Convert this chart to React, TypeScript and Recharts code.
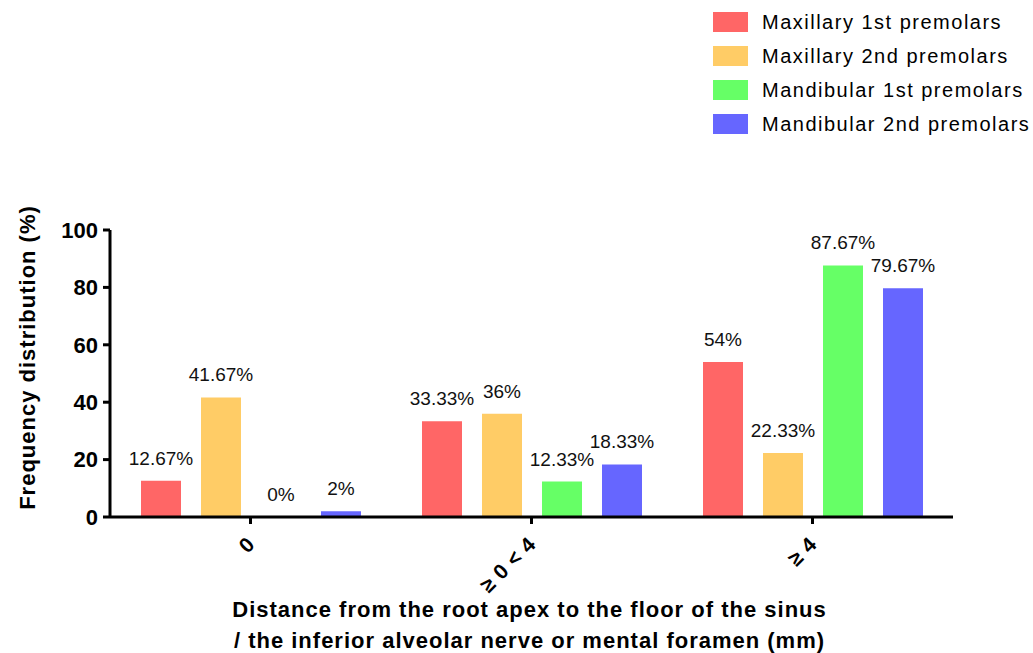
import { Bar, BarChart, Label, LabelList, Legend, XAxis, YAxis } from "recharts";

const categories = ["0", "≥ 0 < 4", "≥ 4"];
const maxillary1st = [12.67, 33.33, 54];
const maxillary2nd = [41.67, 36, 22.33];
const mandibular1st = [0, 12.33, 87.67];
const mandibular2nd = [2, 18.33, 79.67];
const yTicks = [0, 20, 40, 60, 80, 100];

const series = [
  { key: "max1", name: "Maxillary 1st premolars", color: "#ff6666" },
  { key: "max2", name: "Maxillary 2nd premolars", color: "#ffcc66" },
  { key: "man1", name: "Mandibular 1st premolars", color: "#66ff66" },
  { key: "man2", name: "Mandibular 2nd premolars", color: "#6666ff" },
];

const data = categories.map((label, i) => ({
  label,
  max1: maxillary1st[i],
  max2: maxillary2nd[i],
  man1: mandibular1st[i],
  man2: mandibular2nd[i],
}));

const FONT = '"Liberation Sans", Arial, Helvetica, sans-serif';

function XTick({ x, y, payload }: any) {
  const ax = x - 5;
  const ay = y + 9;
  return (
    <text
      x={ax}
      y={ay}
      transform={`rotate(-45 ${ax} ${ay})`}
      textAnchor="end"
      dy="0.71em"
      fontFamily={FONT}
      fontWeight="bold"
      fontSize={21}
      letterSpacing={0.5}
      fill="#000"
    >
      {payload.value}
    </text>
  );
}

function LegendBox() {
  return (
    <div style={{ fontFamily: FONT, fontSize: 20, letterSpacing: 1.5, color: "#000" }}>
      {series.map((s) => (
        <div key={s.key} style={{ display: "flex", alignItems: "center", height: 34 }}>
          <span style={{ width: 35, height: 20, background: s.color, display: "inline-block" }} />
          <span style={{ marginLeft: 14, whiteSpace: "nowrap" }}>{s.name}</span>
        </div>
      ))}
    </div>
  );
}

// keep zero-valued bars so their labels are still drawn
const zeroSafe = (v: any) => (v === 0 ? 0.01 : 0);

export default function App() {
  return (
    <div style={{ position: "absolute", top: 0, left: 0, background: "#fff" }}>
      <BarChart
        width={1033}
        height={653}
        data={data}
        margin={{ top: 230, right: 80, bottom: 0, left: 0 }}
        barSize={40}
        barGap={20}
      >
        <XAxis
          dataKey="label"
          height={136}
          stroke="#000"
          strokeWidth={3}
          tickSize={7}
          tick={<XTick />}
          interval={0}
        >
          <Label
            content={({ viewBox }: any) => {
              const cx = viewBox.x + viewBox.width / 2 - 2;
              return (
                <text
                  textAnchor="middle"
                  fontFamily={FONT}
                  fontWeight="bold"
                  fontSize={22}
                  letterSpacing={1}
                  fill="#000"
                >
                  <tspan x={cx} y={617}>
                    Distance from the root apex to the floor of the sinus
                  </tspan>
                  <tspan x={cx} y={648}>
                    / the inferior alveolar nerve or mental foramen (mm)
                  </tspan>
                </text>
              );
            }}
          />
        </XAxis>
        <YAxis
          width={110}
          domain={[0, 100]}
          ticks={yTicks}
          stroke="#000"
          strokeWidth={3}
          tickSize={7}
          tickMargin={5}
          tick={{ fill: "#000", fontFamily: FONT, fontWeight: "bold", fontSize: 22 }}
        >
          <Label
            content={({ viewBox }: any) => {
              const lx = 27;
              const ly = viewBox.y + viewBox.height / 2 - 16;
              return (
                <text
                  x={lx}
                  y={ly}
                  transform={`rotate(-90 ${lx} ${ly})`}
                  textAnchor="middle"
                  dominantBaseline="central"
                  fontFamily={FONT}
                  fontWeight="bold"
                  fontSize={22}
                  letterSpacing={1}
                  fill="#000"
                >
                  Frequency distribution (%)
                </text>
              );
            }}
          />
        </YAxis>
        <Legend
          layout="horizontal"
          verticalAlign="middle"
          align="center"
          content={<LegendBox />}
          wrapperStyle={{ position: "absolute", top: 5, left: 713, width: 320 }}
        />
        {series.map((s) => (
          <Bar
            key={s.key}
            dataKey={s.key}
            name={s.name}
            fill={s.color}
            minPointSize={zeroSafe}
            isAnimationActive={false}
          >
            <LabelList
              dataKey={s.key}
              position="top"
              offset={16}
              formatter={(v: any) => `${v}%`}
              style={{ fill: "#111", fontFamily: FONT, fontSize: 19 }}
            />
          </Bar>
        ))}
      </BarChart>
    </div>
  );
}
